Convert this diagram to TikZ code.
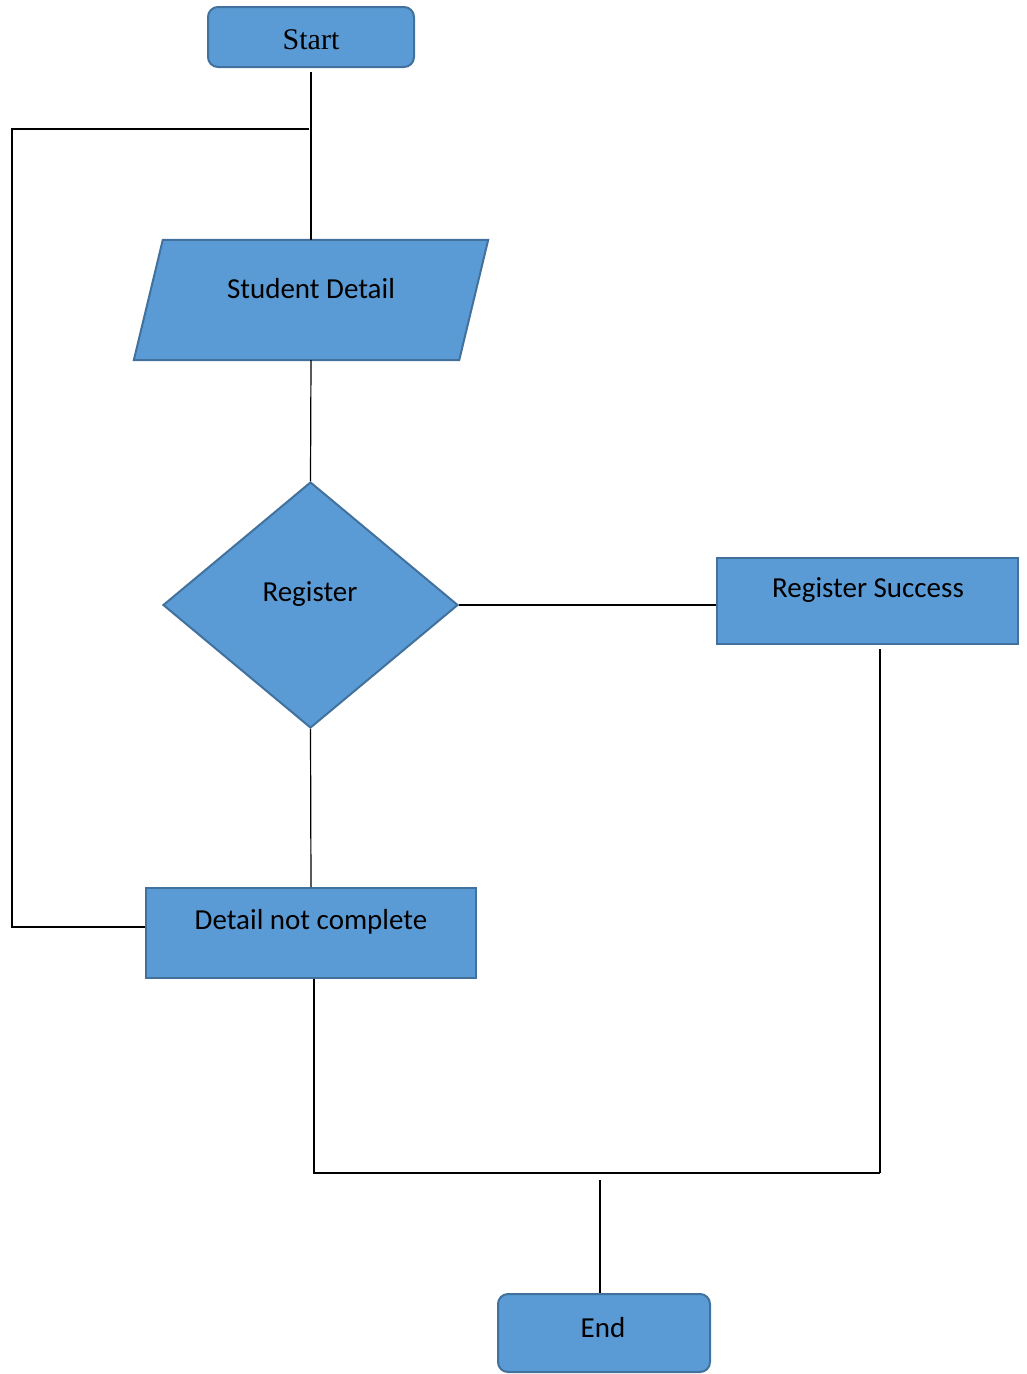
\documentclass[tikz,border=0pt]{standalone}
\usepackage{fontspec}
\setmainfont{Carlito}
\newfontfamily\serifface{Liberation Serif}
\usetikzlibrary{shapes.geometric}
\definecolor{boxfill}{HTML}{5B9BD5}
\definecolor{boxline}{HTML}{41719C}
\begin{document}
\begin{tikzpicture}[x=1pt,y=-1pt,
  box/.style={draw=boxline,fill=boxfill,line width=2pt,inner sep=0pt},
  roundbox/.style={box,rectangle,rounded corners=10pt},
  rectbox/.style={box,rectangle},
  decbox/.style={box,diamond},
  txt/.style={inner sep=0pt,font=\fontsize{29}{34}\selectfont},
  conn/.style={line width=1.2pt,black}]
\useasboundingbox (0,0) rectangle (1027,1374);
% shapes
\node[roundbox,minimum width=206pt,minimum height=60pt] (start) at (311,37) {};
\node[rectangle,inner sep=0pt,minimum width=325pt,minimum height=120pt] (sd) at (311,300) {};
\filldraw[box] ([xshift=14.5pt]sd.north west) -- ([xshift=14.5pt]sd.north east)
  -- ([xshift=-14.5pt]sd.south east) -- ([xshift=-14.5pt]sd.south west) -- cycle;
\node[decbox,minimum width=295pt,minimum height=246pt] (reg) at (310.5,605) {};
\node[rectbox,minimum width=301pt,minimum height=86pt] (rs) at (867.5,601) {};
\node[rectbox,minimum width=330pt,minimum height=90pt] (dnc) at (311,933) {};
\node[roundbox,minimum width=212pt,minimum height=78pt] (end) at (604,1333) {};
% labels
\node[txt,font=\serifface\fontsize{30}{34}\selectfont] (startt) at (311,40) {Start};
\node[txt] (sdt) at (311,289) {Student Detail};
\node[txt] (regt) at (310,594) {Register};
\node[txt] (rst) at (868,590) {Register Success};
\node[txt] (dnct) at (311,922) {Detail not complete};
\node[txt] (endt) at (603,1328) {End};
% junctions
\coordinate (jt) at (309,129);
\coordinate (lt) at (12,129);
\coordinate (lb) at (12,927);
\coordinate (jl) at (314,1173);
\coordinate (jr) at (880,1173);
\coordinate (je) at (600,1180);
% connectors
\draw[conn] ([yshift=-4pt]start.south) -- (sd.north);
\draw[conn] (lb -| dnc.west) -- (lb) -- (lt) -- (jt);
\draw[conn] (sd.south) -- (reg.north);
\draw[conn] (reg.east) -- (reg.east -| rs.west);
\draw[conn] (reg.south) -- (dnc.north);
\draw[conn] (jl |- dnc.south) -- (jl) -- (jr);
\draw[conn] ([yshift=-4pt]rs.south -| jr) -- (jr);
\draw[conn] (je) -- (je |- end.north);
\end{tikzpicture}
\end{document}
